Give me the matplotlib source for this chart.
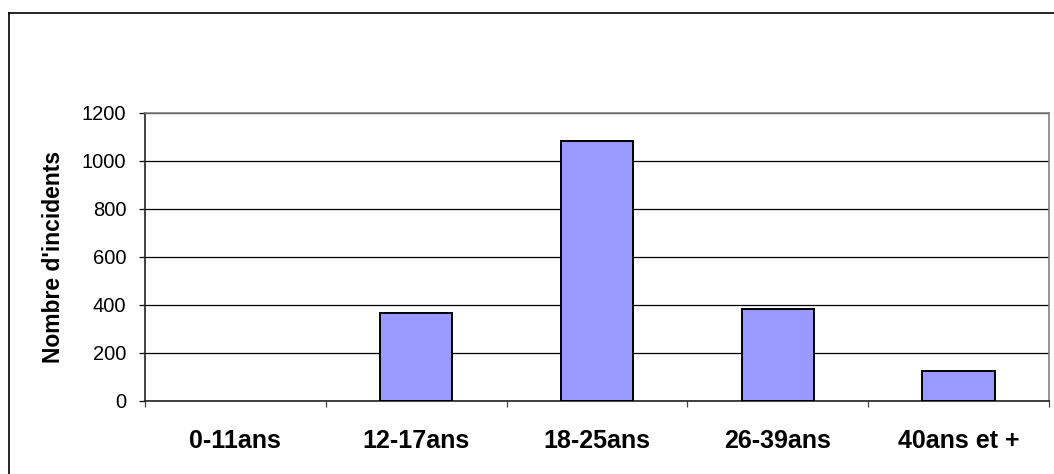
import matplotlib.pyplot as plt
import numpy as np
from matplotlib.lines import Line2D

plt.rcParams['font.family'] = ['Liberation Sans', 'DejaVu Sans']

# donnees
categories = ['0-11ans', '12-17ans', '18-25ans', '26-39ans', '40ans et +']
incidents = [0, 368, 1085, 382, 125]
yticks = [0, 200, 400, 600, 800, 1000, 1200]

W, H = 1054, 474
fig = plt.figure(figsize=(W / 100, H / 100), dpi=100)
# zone de trace (pixels -> fraction)
ax = fig.add_axes([145 / W, (H - 401) / H, (1049 - 145) / W, (401 - 113) / H])

x = np.arange(len(categories))
lw = [0 if v == 0 else 1.4 for v in incidents]
ax.bar(x, incidents, width=0.4, color='#9999FF', edgecolor='black', linewidth=lw, zorder=3)

ax.set_xlim(-0.5, len(categories) - 0.5)
ax.set_ylim(0, 1200)
ax.set_yticks(yticks)
ax.set_yticklabels([str(v) for v in yticks], fontsize=14.5)
ax.yaxis.grid(True, color='black', linewidth=0.9, zorder=0)
ax.set_axisbelow(True)

ax.set_xticks(x)
ax.set_xticklabels(categories, fontsize=18, fontweight='bold')
ax.set_xticks(np.arange(len(categories) + 1) - 0.5, minor=True)
ax.tick_params(axis='x', which='major', length=0, pad=20)
ax.tick_params(axis='x', which='minor', length=4.5, width=0.9, color='#444444')
ax.tick_params(axis='y', length=4.5, width=0.9, pad=9)

ax.set_ylabel("Nombre d'incidents", fontsize=16.5, fontweight='bold', labelpad=12)

ax.spines['left'].set_color('#222222')
ax.spines['bottom'].set_color('#222222')
ax.spines['top'].set_color('#808080')
ax.spines['right'].set_color('#808080')
for s in ax.spines.values():
    s.set_linewidth(1.2)

# cadre exterieur (coupe en bas et a droite)
fig.add_artist(Line2D([8.5 / W, 8.5 / W], [0, 1 - 13 / H], transform=fig.transFigure,
                      color='black', linewidth=1.2))
fig.add_artist(Line2D([8.5 / W, 1], [1 - 13 / H, 1 - 13 / H], transform=fig.transFigure,
                      color='black', linewidth=1.2))

fig.savefig('out.png', dpi=100)
